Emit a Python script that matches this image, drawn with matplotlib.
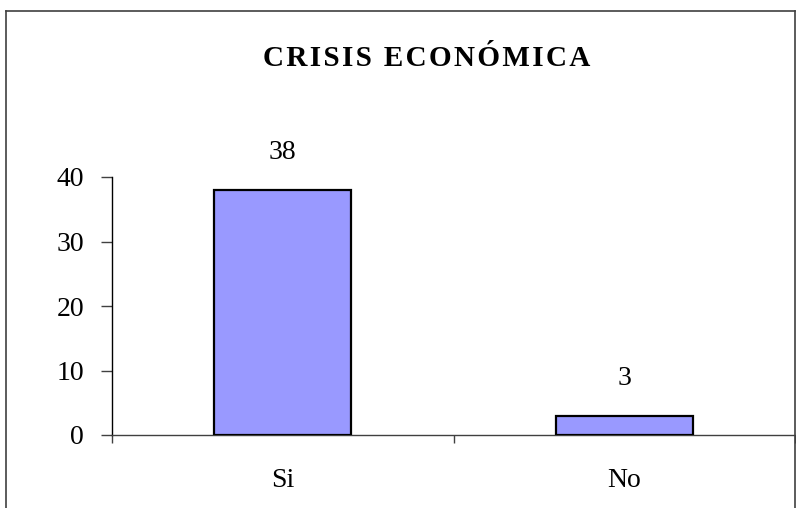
import matplotlib
matplotlib.use("Agg")
import matplotlib.pyplot as plt
from matplotlib.lines import Line2D

categories = ["Si", "No"]
values = [38, 3]
yticks = [0, 10, 20, 30, 40]
title = "CRISIS ECONÓMICA"

W, H = 796, 508
fig = plt.figure(figsize=(W / 100, H / 100), dpi=100)
plt.rcParams['font.family'] = ['Liberation Serif', 'DejaVu Serif']

def fx(px):
    return px / W

def fy(py):
    return 1 - py / H

ax = fig.add_axes([fx(112), fy(435), fx(795) - fx(112), fy(177) - fy(435)])
x = list(range(len(categories)))
bars = ax.bar(x, values, width=0.40, color="#9999FF", edgecolor="black", linewidth=1.6, zorder=3)
ax.set_xlim(-0.5, len(categories) - 0.5)
ax.set_ylim(0, 40)
ax.set_yticks(yticks)
ax.set_yticklabels([str(t) for t in yticks], fontsize=20)
ax.set_xticks(x)
ax.set_xticklabels(categories, fontsize=20)
ax.tick_params(axis='x', which='major', length=0, pad=24)
ax.set_xticks([i - 0.5 for i in range(len(categories) + 1)], minor=True)
ax.tick_params(axis='x', which='minor', length=6, width=1, color="#404040", direction='out')
ax.tick_params(axis='y', length=8, width=1, color="#404040", direction='out', pad=12)
for s in ["top", "right"]:
    ax.spines[s].set_visible(False)
ax.spines["left"].set_color("black")
ax.spines["bottom"].set_color("#404040")
ax.spines["left"].set_linewidth(1)
ax.spines["bottom"].set_linewidth(1)

for xi, v in zip(x, values):
    ax.annotate(str(v), (xi, v), xytext=(0, 18), textcoords="offset points",
                ha="center", va="bottom", fontsize=20)

spaced_title = "\u200a".join(title)
fig.text(fx(427), fy(58), spaced_title, ha="center", va="center", fontsize=21, fontweight="bold")

# figure border
lc = "#404040"
fig.add_artist(Line2D([fx(6), fx(6)], [0, fy(11)], color=lc, lw=1.2, transform=fig.transFigure))
fig.add_artist(Line2D([fx(6), fx(795)], [fy(11), fy(11)], color=lc, lw=1.2, transform=fig.transFigure))
fig.add_artist(Line2D([fx(795), fx(795)], [0, fy(11)], color=lc, lw=1.2, transform=fig.transFigure))

fig.savefig("out.png", dpi=100)
